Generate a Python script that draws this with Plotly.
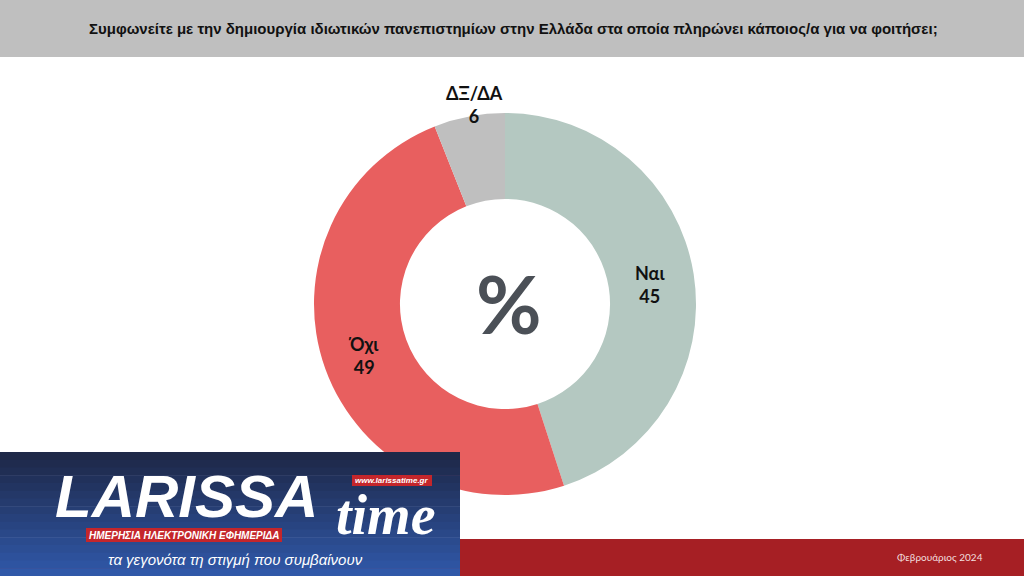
import plotly.graph_objects as go

W, H = 1024, 576

title_text = "Συμφωνείτε με την δημιουργία ιδιωτικών πανεπιστημίων στην Ελλάδα στα οποία πληρώνει κάποιος/α για να φοιτήσει;"
categories = ["Ναι", "Όχι", "ΔΞ/ΔΑ"]
values = [45, 49, 6]
colors = ["#b4c8c1", "#e85f5f", "#bfbfbf"]
date_text = "Φεβρουάριος 2024"

def px(x):
    return x / W

def py(y):
    return 1 - y / H

cx, cy, r = 505, 304, 191

fig = go.Figure()
fig.add_trace(go.Pie(
    labels=categories, values=values, sort=False, direction="clockwise",
    rotation=0, hole=0.55, marker=dict(colors=colors, line=dict(width=0)),
    textinfo="none", hoverinfo="label+value", showlegend=False,
    domain=dict(x=[px(cx - r), px(cx + r)], y=[py(cy + r), py(cy - r)]),
))

shapes = []
shapes.append(dict(type="rect", xref="paper", yref="paper", x0=0, x1=1, y0=py(57), y1=1,
                   fillcolor="#bfbfbf", line=dict(width=0), layer="below"))
shapes.append(dict(type="rect", xref="paper", yref="paper", x0=0, x1=1, y0=0, y1=py(539),
                   fillcolor="#a61f24", line=dict(width=0), layer="above"))
top_c = (0x1e, 0x28, 0x48)
bot_c = (0x30, 0x58, 0xa8)
n = 16
y0, y1 = 452, 576
for i in range(n):
    t = i / (n - 1)
    c = tuple(int(top_c[k] + (bot_c[k] - top_c[k]) * t) for k in range(3))
    ya = y0 + (y1 - y0) * i / n
    yb = y0 + (y1 - y0) * (i + 1) / n + 0.5
    shapes.append(dict(type="rect", xref="paper", yref="paper", x0=0, x1=px(460),
                       y0=py(yb), y1=py(ya), fillcolor="rgb(%d,%d,%d)" % c,
                       line=dict(width=0), layer="above"))
shapes.append(dict(type="rect", xref="paper", yref="paper", x0=px(86), x1=px(282),
                   y0=py(542), y1=py(528), fillcolor="#c4262b", line=dict(width=0), layer="above"))
shapes.append(dict(type="rect", xref="paper", yref="paper", x0=px(352), x1=px(432),
                   y0=py(486), y1=py(475), fillcolor="#c4262b", line=dict(width=0), layer="above"))

ann = []
def add(x, y, text, font, **kw):
    d = dict(x=px(x), y=py(y), text=text, showarrow=False, font=font,
             xref="paper", yref="paper", xanchor="center", yanchor="middle")
    d.update(kw)
    ann.append(d)

add(513, 29, "<b>" + title_text + "</b>",
    dict(family="Liberation Sans, Arial", size=15, color="#111111"))
lab_font = dict(family="Lato, DejaVu Sans", size=18, color="#111111")
label_pos = [(650, 284), (363, 355), (474, 104)]
for (x, y), c, v in zip(label_pos, categories, values):
    add(x, y, "<b>%s<br>%d</b>" % (c, v), lab_font, align="center")
add(509, 303, "<b>%</b>", dict(family="Lato, DejaVu Sans", size=80, color="#4b5057"))
add(940, 557, date_text, dict(family="Lato, DejaVu Sans", size=10, color="#f2dede"))
# logo texts
add(186, 496, "<b><i>LARISSA</i></b>", dict(family="Liberation Sans, Arial", size=60, color="white"))
add(386, 515, "<b><i>time</i></b>", dict(family="Liberation Serif, DejaVu Serif", size=56, color="white"))
add(184, 535, "<b><i>ΗΜΕΡΗΣΙΑ ΗΛΕΚΤΡΟΝΙΚΗ ΕΦΗΜΕΡΙΔΑ</i></b>",
    dict(family="Liberation Sans, Arial", size=10, color="white"))
add(392, 480.5, "<b><i>www.larissatime.gr</i></b>", dict(family="Liberation Sans, Arial", size=8, color="white"))
add(235, 559, "<i>τα γεγονότα τη στιγμή που συμβαίνουν</i>",
    dict(family="Liberation Sans, Arial", size=15, color="white"))

fig.update_layout(width=W, height=H, margin=dict(l=0, r=0, t=0, b=0),
                  paper_bgcolor="white", plot_bgcolor="white",
                  shapes=shapes, annotations=ann)
fig.write_html("out.html", config={"displayModeBar": False},
               post_script="document.body.style.margin='0';document.body.style.overflow='hidden';")
